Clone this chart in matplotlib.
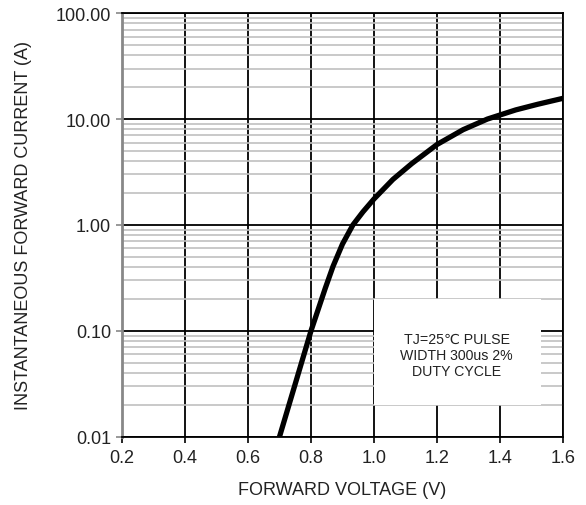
import matplotlib
matplotlib.use("Agg")
import matplotlib.pyplot as plt
from matplotlib.patches import Rectangle
from matplotlib.ticker import FixedLocator, LogLocator, NullFormatter

# Forward characteristic
voltage = [0.70, 0.75, 0.80, 0.845, 0.87, 0.90, 0.933, 0.965, 1.00, 1.06,
           1.12, 1.20, 1.283, 1.36, 1.45, 1.52, 1.60]
current = [0.01, 0.0316, 0.10, 0.251, 0.407, 0.661, 1.0, 1.33, 1.76, 2.69,
           3.80, 5.75, 7.94, 10.0, 12.2, 13.8, 15.7]

x_ticks = [0.2, 0.4, 0.6, 0.8, 1.0, 1.2, 1.4, 1.6]
y_ticks = [0.01, 0.1, 1, 10, 100]
y_labels = ["0.01", "0.10", "1.00", "10.00", "100.00"]
note = "TJ=25\u2103 PULSE\nWIDTH 300us 2%\nDUTY CYCLE"

plt.rcParams["font.family"] = ["Liberation Sans", "DejaVu Sans"]

fig = plt.figure(figsize=(5.86, 5.06), dpi=100)
ax = fig.add_axes([0.2082, 0.135, 0.7526, 0.837])

ax.set_yscale("log")
ax.set_xlim(0.2, 1.6)
ax.set_ylim(0.01, 100)
ax.set_axisbelow(True)

ax.xaxis.set_major_locator(FixedLocator(x_ticks))
ax.set_xticklabels([f"{v:.1f}" for v in x_ticks])
ax.yaxis.set_major_locator(FixedLocator(y_ticks))
ax.set_yticklabels(y_labels)
ax.yaxis.set_minor_locator(LogLocator(base=10, subs=range(2, 10)))
ax.yaxis.set_minor_formatter(NullFormatter())

ax.grid(True, which="major", axis="both", color="black", linewidth=1.3)
ax.grid(True, which="minor", axis="y", color="#c0c0c0", linewidth=1.2)

ax.tick_params(axis="x", which="major", direction="out", length=4,
               width=1.2, color="black", labelsize=13, pad=5,
               labelcolor="#222222")
ax.tick_params(axis="y", which="major", direction="out", length=4,
               width=1.2, color="#888888", labelsize=13, pad=4,
               labelcolor="#222222")
ax.tick_params(axis="y", which="minor", length=0)

for side in ["top", "right", "bottom"]:
    ax.spines[side].set_color("black")
    ax.spines[side].set_linewidth(1.3)
ax.spines["left"].set_color("#888888")
ax.spines["left"].set_linewidth(2)

# white note box hiding the grid underneath
ax.add_patch(Rectangle((1.0, 0.02), 0.53, 0.18, facecolor="white",
                       edgecolor="none", zorder=1))
ax.text(1.262, 0.059, note, ha="center", va="center", fontsize=10.2,
        linespacing=1.2, color="#222222", zorder=2)

ax.plot(voltage, current, color="black", linewidth=3.8, zorder=3,
        solid_capstyle="butt", solid_joinstyle="round", clip_on=True)

ax.set_xlabel("FORWARD VOLTAGE (V)", fontsize=13, labelpad=11,
              color="#222222")
ax.set_ylabel("INSTANTANEOUS FORWARD CURRENT (A)", fontsize=13, labelpad=17,
              color="#222222")

fig.savefig("out.png", dpi=100)
